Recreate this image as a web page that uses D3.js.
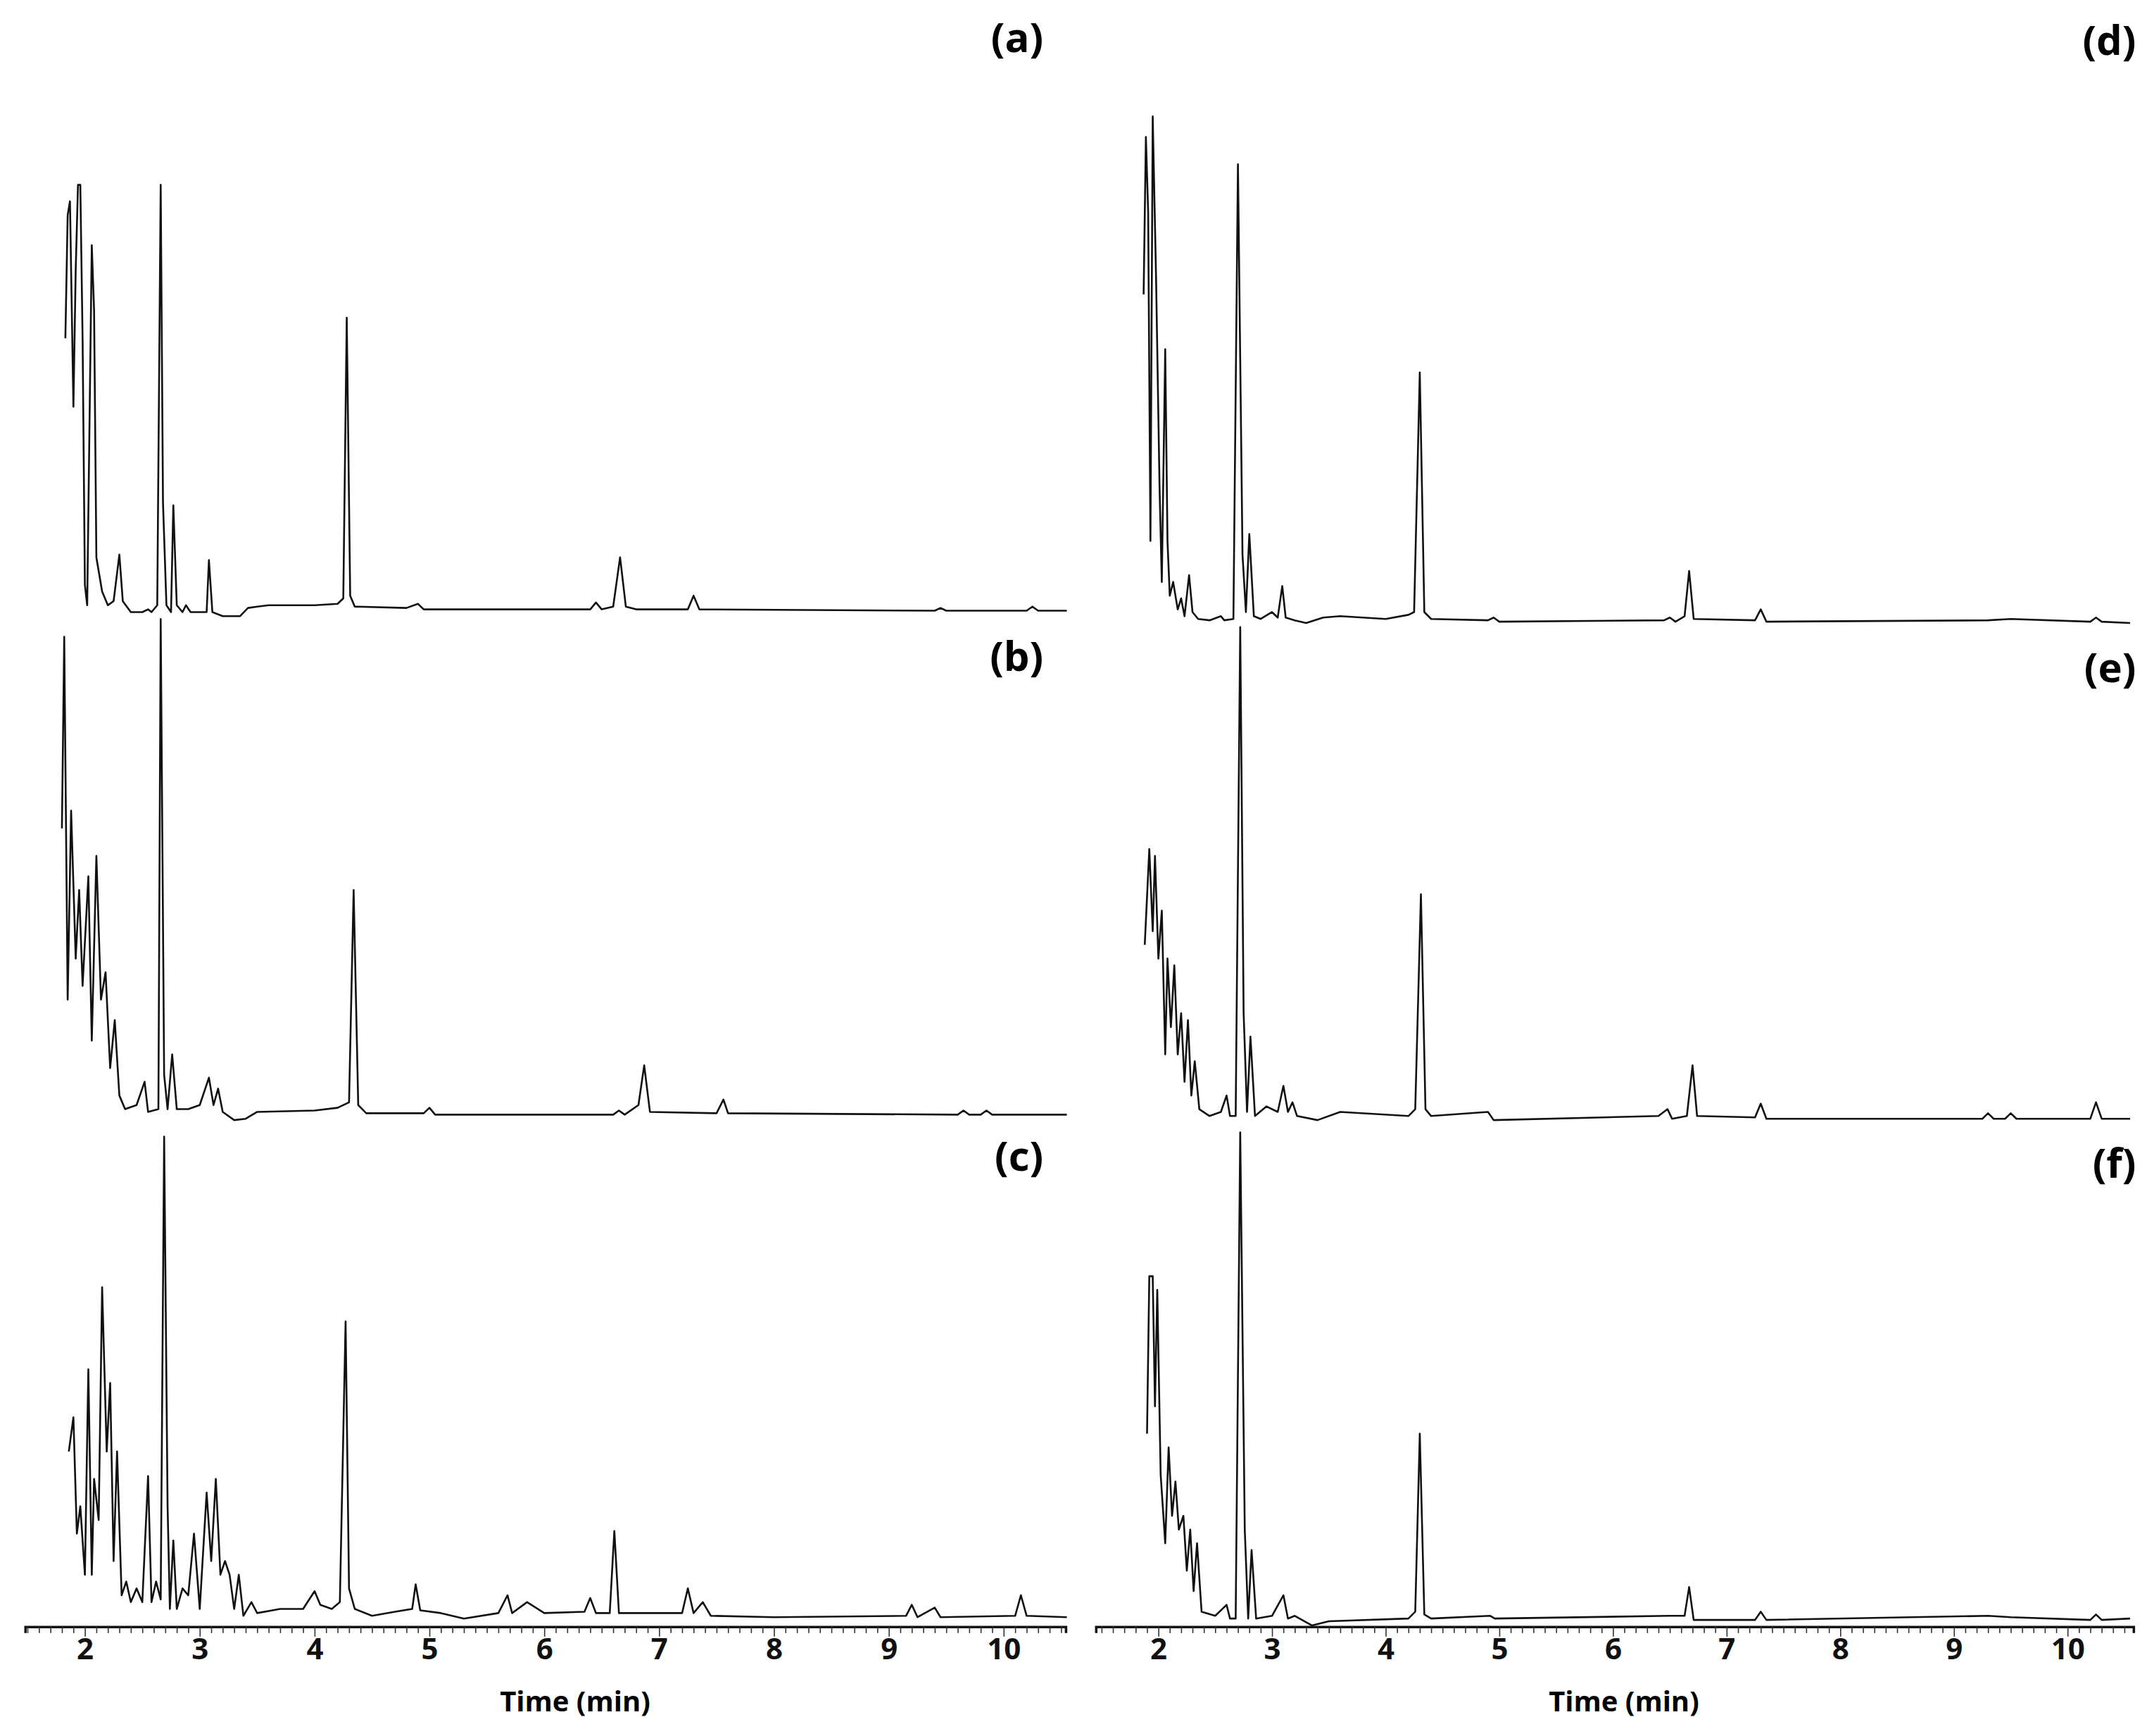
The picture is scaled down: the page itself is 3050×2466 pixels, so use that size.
<!DOCTYPE html>
<html><head><meta charset="utf-8">
<script src="https://cdn.jsdelivr.net/npm/d3@7"></script>
<style>body{margin:0;background:#fff}svg{display:block}</style>
</head><body>
<script>
// ---- data: [time (min), intensity (a.u.)] ----
const traceA = [[1.83,200],[1.85,290],[1.87,300],[1.9,150],[1.92,250],[1.94,312],[1.96,312],[1.98,200],[2.0,20],[2.02,5],[2.06,268],[2.08,220],[2.1,40],[2.15,15],[2.2,5],[2.25,8],[2.3,42],[2.33,8],[2.4,0],[2.5,0],[2.55,2],[2.58,0],[2.63,5],[2.66,312],[2.68,80],[2.71,5],[2.75,0],[2.77,78],[2.8,5],[2.85,0],[2.88,5],[2.92,0],[3.06,0],[3.08,38],[3.11,0],[3.2,-3],[3.35,-3],[3.42,3],[3.5,4],[3.6,5],[4.0,5],[4.2,6],[4.25,10],[4.28,215],[4.31,12],[4.35,4],[4.8,3],[4.9,6],[4.95,2],[6.4,2],[6.45,7],[6.5,2],[6.6,4],[6.66,40],[6.71,4],[6.8,2],[7.25,2],[7.3,12],[7.35,2],[9.4,1],[9.45,3],[9.5,1],[10.2,1],[10.25,4],[10.3,1],[10.55,1]];
const traceB = [[1.8,210],[1.82,350],[1.85,85],[1.88,223],[1.92,115],[1.95,165],[1.98,95],[2.03,175],[2.06,55],[2.1,190],[2.14,85],[2.18,105],[2.22,35],[2.26,70],[2.3,15],[2.35,5],[2.45,8],[2.52,25],[2.55,3],[2.64,5],[2.66,363],[2.69,30],[2.72,5],[2.76,45],[2.8,5],[2.9,5],[3.0,8],[3.08,28],[3.12,8],[3.16,20],[3.2,3],[3.3,-3],[3.4,-2],[3.5,3],[4.0,4],[4.2,6],[4.3,10],[4.34,165],[4.38,8],[4.45,2],[4.95,2],[5.0,6],[5.05,1],[6.6,1],[6.65,4],[6.7,1],[6.82,8],[6.87,37],[6.92,3],[7.5,2],[7.56,12],[7.6,2],[9.6,1],[9.65,4],[9.7,1],[9.8,1],[9.85,4],[9.9,1],[10.55,1]];
const traceC = [[1.86,123],[1.9,148],[1.93,63],[1.96,83],[2.0,33],[2.03,183],[2.06,33],[2.08,103],[2.12,73],[2.15,243],[2.19,123],[2.22,173],[2.25,43],[2.28,123],[2.32,18],[2.36,28],[2.4,13],[2.45,23],[2.5,13],[2.55,105],[2.58,13],[2.62,28],[2.66,15],[2.69,353],[2.72,83],[2.74,8],[2.77,58],[2.8,8],[2.85,23],[2.9,18],[2.95,63],[3.0,8],[3.06,93],[3.1,43],[3.14,103],[3.18,33],[3.22,43],[3.26,33],[3.3,8],[3.34,33],[3.38,3],[3.45,13],[3.5,5],[3.7,8],[3.9,8],[4.0,21],[4.05,11],[4.15,8],[4.22,13],[4.27,218],[4.3,23],[4.35,8],[4.5,3],[4.7,6],[4.85,8],[4.88,26],[4.92,7],[5.1,5],[5.3,1],[5.6,5],[5.68,18],[5.72,5],[5.85,13],[6.0,5],[6.35,6],[6.4,16],[6.45,5],[6.57,5],[6.61,65],[6.65,5],[7.2,5],[7.25,23],[7.3,5],[7.38,13],[7.45,3],[8.0,2],[9.15,3],[9.2,11],[9.25,2],[9.4,9],[9.45,2],[10.1,3],[10.15,18],[10.2,3],[10.55,2]];
const traceD = [[1.87,240],[1.89,355],[1.91,300],[1.93,60],[1.95,370],[1.98,250],[2.01,100],[2.03,30],[2.06,200],[2.08,60],[2.1,20],[2.13,30],[2.17,10],[2.2,18],[2.23,5],[2.27,35],[2.3,8],[2.35,3],[2.45,2],[2.55,5],[2.58,2],[2.66,3],[2.7,335],[2.74,50],[2.77,8],[2.8,65],[2.84,5],[2.9,3],[3.0,8],[3.05,4],[3.09,27],[3.12,4],[3.2,2],[3.3,0],[3.45,4],[3.6,5],[4.0,3],[4.2,6],[4.25,8],[4.3,183],[4.34,8],[4.4,3],[4.9,2],[4.95,4],[5.0,1],[6.45,2],[6.5,4],[6.55,1],[6.63,5],[6.67,38],[6.71,3],[7.25,2],[7.3,10],[7.35,1],[9.3,2],[9.5,3],[10.2,1],[10.25,4],[10.3,1],[10.55,0]];
const traceE = [[1.88,128],[1.92,198],[1.95,138],[1.97,193],[2.0,118],[2.03,153],[2.06,48],[2.08,118],[2.11,68],[2.14,113],[2.17,48],[2.2,78],[2.23,28],[2.26,73],[2.29,18],[2.32,43],[2.36,8],[2.45,3],[2.55,6],[2.6,18],[2.63,3],[2.68,3],[2.72,360],[2.75,78],[2.78,6],[2.81,61],[2.85,3],[2.95,10],[3.05,6],[3.1,25],[3.14,6],[3.18,13],[3.22,3],[3.4,0],[3.6,6],[4.2,3],[4.26,8],[4.31,165],[4.35,8],[4.4,3],[4.9,6],[4.95,0],[6.4,3],[6.48,8],[6.52,1],[6.65,3],[6.7,40],[6.74,3],[7.25,2],[7.3,12],[7.35,1],[9.25,1],[9.3,5],[9.35,1],[9.45,1],[9.5,5],[9.55,1],[10.2,1],[10.25,13],[10.3,1],[10.55,1]];
const traceF = [[1.9,138],[1.92,253],[1.95,253],[1.97,158],[1.99,243],[2.02,108],[2.06,58],[2.09,128],[2.12,78],[2.15,103],[2.18,68],[2.22,78],[2.25,38],[2.28,68],[2.31,23],[2.34,58],[2.38,8],[2.5,5],[2.6,13],[2.63,3],[2.68,3],[2.72,358],[2.76,68],[2.79,3],[2.82,53],[2.86,3],[3.0,5],[3.1,20],[3.14,3],[3.2,5],[3.35,-2],[3.5,1],[4.2,3],[4.26,8],[4.3,138],[4.34,6],[4.4,3],[4.92,5],[4.96,3],[6.5,5],[6.63,5],[6.67,26],[6.71,2],[7.25,2],[7.3,8],[7.35,2],[9.3,5],[9.5,4],[10.2,2],[10.25,6],[10.3,2],[10.55,3]];
const panelLabels = ["(a)","(b)","(c)","(d)","(e)","(f)"];
const tickLabels = [2,3,4,5,6,7,8,9,10];
const axisTitle = "Time (min)";

// ---- layout (display units scaled by k) ----
const W = 3050, H = 2466, k = W/1568;
const svg = d3.select("body").append("svg").attr("width",W).attr("height",H);
const cols = [
  {px:[62,733], ext:[1.48,10.54], base:[447,815,1183], axisY:1188, labelX:762, titleX:420,
   traces:[traceA,traceB,traceC], labels:panelLabels.slice(0,3), labelY:[38,490,855]},
  {px:[846,1510], ext:[1.45,10.58], base:[455,818,1185], axisY:1188, labelX:1560, titleX:1186,
   traces:[traceD,traceE,traceF], labels:panelLabels.slice(3), labelY:[40,498,860]}
];
const y = d3.scaleLinear().domain([0,400]).range([0,-400*k]);
cols.forEach(c=>{
  const x = d3.scaleLinear().domain([2,10]).range([c.px[0]*k,c.px[1]*k]);
  c.traces.forEach((tr,i)=>{
    const g = svg.append("g").attr("transform",`translate(0,${c.base[i]*k})`);
    g.append("path").datum(tr)
      .attr("d", d3.line().x(d=>x(d[0])).y(d=>y(d[1])))
      .attr("fill","none").attr("stroke","#111").attr("stroke-width",2.6).attr("stroke-linejoin","round");
    svg.append("text").attr("x",c.labelX*k).attr("y",c.labelY[i]*k).attr("text-anchor","end")
      .attr("font-family","Open Sans, sans-serif").attr("font-weight",700).attr("font-size",58)
      .text(c.labels[i]);
  });
  const ticks = d3.range(15,106).map(v=>v/10).filter(v=>v>=c.ext[0]&&v<=c.ext[1]);
  const ax = d3.axisBottom(x.copy().domain([c.ext[0],c.ext[1]]).range([x(c.ext[0]),x(c.ext[1])]))
    .tickValues(ticks).tickSize(9).tickFormat(v=>tickLabels.includes(Math.round(v*10)/10)&&Math.abs(v-Math.round(v))<1e-6? String(Math.round(v)) : "");
  const ag = svg.append("g").attr("transform",`translate(0,${c.axisY*k})`).call(ax);
  ag.select(".domain").attr("stroke","#111").attr("stroke-width",3.5);
  ag.selectAll(".tick line").attr("stroke","#333").attr("stroke-width",1.6)
    .attr("y2",d=>Math.abs(d-Math.round(d))<1e-6?14:9);
  ag.selectAll(".tick text").attr("font-family","Open Sans, sans-serif").attr("font-weight",700)
    .attr("font-size",42).attr("fill","#111").attr("dy","0.85em").attr("y",10);
  svg.append("text").attr("x",c.titleX*k).attr("y",1250*k).attr("text-anchor","middle")
    .attr("font-family","Open Sans, sans-serif").attr("font-weight",700).attr("font-size",40)
    .text(axisTitle);
});
</script>
</body></html>
